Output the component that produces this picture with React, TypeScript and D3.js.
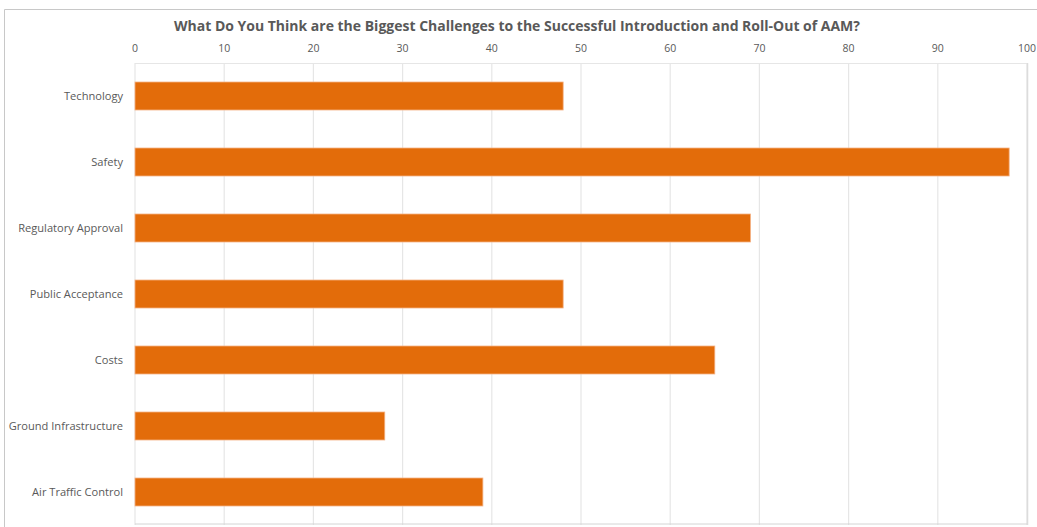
import React from "react";
import * as d3 from "d3";

const categories = [
  "Technology",
  "Safety",
  "Regulatory Approval",
  "Public Acceptance",
  "Costs",
  "Ground Infrastructure",
  "Air Traffic Control",
];
const values = [48, 98, 69, 48, 65, 28, 39];
const xTicks = [0, 10, 20, 30, 40, 50, 60, 70, 80, 90, 100];
const title =
  "What Do You Think are the Biggest Challenges to the Successful Introduction and Roll-Out of AAM?";

const W = 1037;
const H = 527;
const plot = { left: 135, right: 1027, top: 63, bottom: 525 };
const FONT = "Open Sans, Noto Sans, sans-serif";
const TEXT = "#595959";

export default function App() {
  const x = d3.scaleLinear().domain([0, 100]).range([plot.left, plot.right]);
  const y = d3
    .scaleBand<string>()
    .domain(categories)
    .range([plot.top, plot.bottom])
    .paddingInner(0.576)
    .paddingOuter(0.288);

  return (
    <svg
      width={W}
      height={H}
      style={{ position: "absolute", left: 0, top: 0, background: "#fff" }}
      fontFamily={FONT}
    >
      <rect x={0} y={0} width={W} height={H} fill="#fff" />
      {/* outer frame */}
      <line x1={4.5} y1={9.5} x2={W} y2={9.5} stroke="#c8c8c8" />
      <line x1={4.5} y1={9.5} x2={4.5} y2={H} stroke="#c8c8c8" />
      <text
        x={517}
        y={30.5}
        textAnchor="middle"
        fontSize={13.4}
        fontWeight="bold"
        fill={TEXT}
        textLength={686}
        lengthAdjust="spacingAndGlyphs"
      >
        {title}
      </text>
      {/* gridlines */}
      {xTicks.map((t) => (
        <line
          key={"g" + t}
          x1={x(t)}
          x2={x(t)}
          y1={plot.top}
          y2={plot.bottom}
          stroke="#e6e6e6"
          strokeWidth={1.2}
        />
      ))}
      <line
        x1={plot.left}
        x2={plot.right}
        y1={plot.top + 0.5}
        y2={plot.top + 0.5}
        stroke="#e6e6e6"
      />
      <line
        x1={plot.left}
        x2={plot.right + 1}
        y1={plot.bottom - 1}
        y2={plot.bottom - 1}
        stroke="#d4d4d4"
      />
      <line
        x1={plot.right + 0.5}
        x2={plot.right + 0.5}
        y1={plot.top}
        y2={plot.bottom}
        stroke="#dcdcdc"
        strokeWidth={1.5}
      />
      {/* tick labels */}
      {xTicks.map((t) => (
        <text
          key={"t" + t}
          x={x(t)}
          y={52}
          textAnchor="middle"
          fontSize={10.5}
          fill={TEXT}
        >
          {t}
        </text>
      ))}
      {/* bars */}
      {categories.map((c, i) => (
        <rect
          key={c}
          x={x(0)}
          y={y(c)}
          width={x(values[i]) - x(0)}
          height={y.bandwidth()}
          fill="#E36C0A"
          stroke="#F4B183"
          strokeWidth={0.8}
        />
      ))}
      {/* category labels */}
      {categories.map((c) => (
        <text
          key={"l" + c}
          x={123}
          y={(y(c) as number) + y.bandwidth() / 2}
          dy="0.35em"
          textAnchor="end"
          fontSize={11.1}
          fill={TEXT}
        >
          {c}
        </text>
      ))}
    </svg>
  );
}
